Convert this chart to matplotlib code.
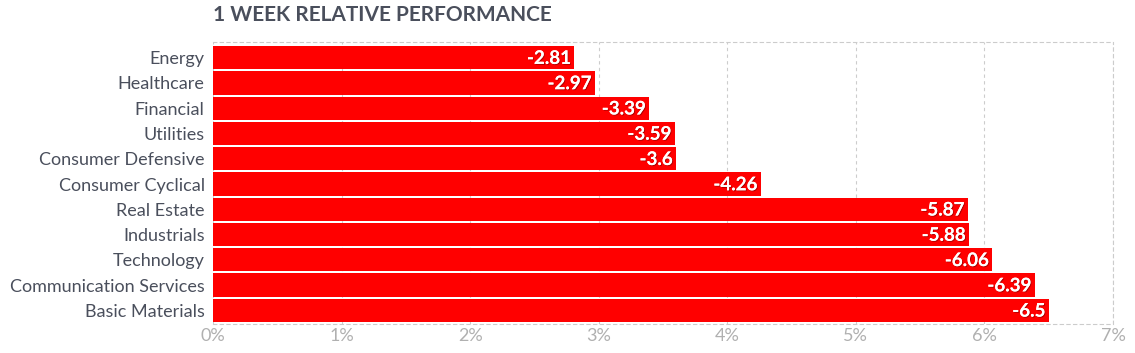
import matplotlib
matplotlib.use("Agg")
import matplotlib.pyplot as plt
import matplotlib.patheffects as pe
from matplotlib.ticker import FuncFormatter

# sector data (weekly % change)
sectors = ["Energy", "Healthcare", "Financial", "Utilities", "Consumer Defensive",
           "Consumer Cyclical", "Real Estate", "Industrials", "Technology",
           "Communication Services", "Basic Materials"]
changes = [-2.81, -2.97, -3.39, -3.59, -3.6, -4.26, -5.87, -5.88, -6.06, -6.39, -6.5]
value_labels = ["-2.81", "-2.97", "-3.39", "-3.59", "-3.6", "-4.26",
                "-5.87", "-5.88", "-6.06", "-6.39", "-6.5"]
ticks = [0, 1, 2, 3, 4, 5, 6, 7]

plt.rcParams["font.family"] = ["Lato", "DejaVu Sans"]

fig = plt.figure(figsize=(11.35, 3.53), dpi=100)
ax = fig.add_axes([213 / 1135, 1 - 324 / 353, 900 / 1135, 282.5 / 353])

y = range(len(sectors))
widths = [abs(v) for v in changes]
ax.barh(y, widths, height=0.92, color="#ff0000", zorder=3)

shadow = [pe.withSimplePatchShadow(offset=(0.7, -0.7), shadow_rgbFace="#800000", alpha=0.6),
          pe.Normal()]
for i, w in enumerate(widths):
    ax.text(w - 0.025, i + 0.03, value_labels[i], ha="right", va="center",
            color="white", fontsize=13.5, fontweight="bold", zorder=4,
            path_effects=shadow)

ax.set_xlim(0, 7)
ax.set_ylim(len(sectors) - 0.46, -0.64)
ax.set_yticks(list(y))
ax.set_yticklabels(sectors, fontsize=13, color="#4a4f5c")
ax.set_xticks(ticks)
ax.xaxis.set_major_formatter(FuncFormatter(lambda v, p: f"{v:.0f}%"))
ax.tick_params(axis="x", labelsize=13, labelcolor="#b0b0b0", length=0, pad=3)
ax.tick_params(axis="y", length=0, pad=6)

dash = (0, (3, 3))
ax.grid(axis="x", color="#cccccc", linestyle=dash, linewidth=0.8, zorder=0)
for side in ["top", "right", "bottom"]:
    ax.spines[side].set_color("#cccccc")
    ax.spines[side].set_linestyle(dash)
    ax.spines[side].set_linewidth(0.8)
ax.spines["left"].set_visible(False)

fig.text(213 / 1135, 1 - 15 / 353, "1 WEEK RELATIVE PERFORMANCE", fontsize=15,
         fontweight="bold", color="#4a4f5c", ha="left", va="center")

plt.savefig("out.png", dpi=100)
